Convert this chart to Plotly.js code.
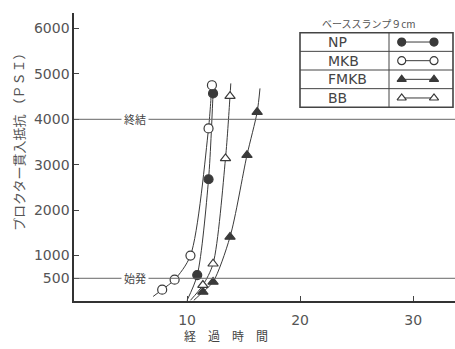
<!DOCTYPE html>
<html><head><meta charset="utf-8">
<script src="https://cdn.plot.ly/plotly-3.0.1.min.js"></script>
<style>html,body{margin:0;padding:0;background:#fff}#c{width:455px;height:349px}</style>
</head><body><div id="c"></div>
<script>
// categories
const categories = ['NP', 'MKB', 'FMKB', 'BB'];
// measured points (elapsed hours, penetration resistance PSI)
const npX = [10.9, 11.9, 12.3];
const npY = [570, 2680, 4570];
const mkbX = [7.8, 8.9, 10.3, 11.9, 12.2];
const mkbY = [250, 470, 1000, 3800, 4750];
const fmkbX = [11.4, 12.3, 13.8, 15.3, 16.2];
const fmkbY = [200, 420, 1410, 3210, 4160];
const bbX = [11.4, 12.3, 13.4, 13.8];
const bbY = [350, 820, 3140, 4510];
// fitted curve ends
const npCurveX = [10.0, 10.9, 11.9, 12.3, 12.35];
const npCurveY = [15, 570, 2680, 4570, 4830];
const mkbCurveX = [7.0, 7.8, 8.9, 10.3, 11.9, 12.2, 12.25];
const mkbCurveY = [100, 250, 470, 1000, 3800, 4750, 4850];
const fmkbCurveX = [10.6, 11.4, 12.3, 13.8, 15.3, 16.2, 16.45];
const fmkbCurveY = [15, 200, 420, 1410, 3210, 4160, 4680];
const bbCurveX = [10.3, 11.4, 12.3, 13.4, 13.8, 13.87];
const bbCurveY = [15, 350, 820, 3140, 4510, 4790];
// reference levels
const refLevels = [4000, 500];
const refLabels = ['終結', '始発'];
// ticks
const yTicks = [500, 1000, 2000, 3000, 4000, 5000, 6000];
const xTicks = [10, 20, 30];

const ink = '#3a3a3a';
const symbols = {NP: 'circle', MKB: 'circle', FMKB: 'triangle-up', BB: 'triangle-up'};
const fills = {NP: ink, MKB: '#fff', FMKB: ink, BB: '#fff'};
const pts = {NP: [npX, npY], MKB: [mkbX, mkbY], FMKB: [fmkbX, fmkbY], BB: [bbX, bbY]};
const curves = {NP: [npCurveX, npCurveY], MKB: [mkbCurveX, mkbCurveY], FMKB: [fmkbCurveX, fmkbCurveY], BB: [bbCurveX, bbCurveY]};

const traces = [];
categories.forEach(c => {
  traces.push({x: curves[c][0], y: curves[c][1], mode: 'lines', line: {color: ink, width: 1, shape: 'spline', smoothing: 0.8}, hoverinfo: 'skip', showlegend: false});
});
categories.forEach(c => {
  traces.push({x: pts[c][0], y: pts[c][1], mode: 'markers', name: c, showlegend: false,
    marker: {symbol: symbols[c], size: 9, color: fills[c], line: {color: ink, width: 1.2}}});
});
// legend samples in the table
categories.forEach((c, i) => {
  traces.push({x: [0, 1], y: [i, i], xaxis: 'x2', yaxis: 'y2', mode: 'lines+markers', showlegend: false, hoverinfo: 'skip',
    line: {color: ink, width: 1}, marker: {symbol: symbols[c], size: 8, color: fills[c], line: {color: ink, width: 1.2}}});
});

const tickFont = {family: 'DejaVu Sans, sans-serif', size: 14, color: '#555'};
const cjk = 'Noto Sans CJK JP, sans-serif';
const L = 74, W = 381, B = 301, H = 288;
const px = v => (v - L) / W;
const py = v => (B - v) / H;

const shapes = [];
refLevels.forEach(v => shapes.push({type: 'line', xref: 'paper', yref: 'y', x0: 0, x1: 1, y0: v, y1: v, line: {color: '#666', width: 1}}));
shapes.push({type: 'rect', xref: 'paper', yref: 'paper', x0: px(300), x1: px(453), y0: py(107.3), y1: py(32.7), line: {color: '#444', width: 1.6}});
shapes.push({type: 'line', xref: 'paper', yref: 'paper', x0: px(389), x1: px(389), y0: py(107.3), y1: py(32.7), line: {color: '#444', width: 1}});
[0.5, 1.5, 2.5].forEach(v => shapes.push({type: 'line', xref: 'paper', yref: 'y2', x0: px(300), x1: px(453), y0: v, y1: v, line: {color: '#444', width: 1}}));

const annotations = [];
refLevels.forEach((v, i) => annotations.push({x: 5.4, y: v, xref: 'x', yref: 'y', text: refLabels[i], showarrow: false,
  xanchor: 'center', yanchor: 'middle', font: {family: cjk, size: 11, color: '#444'}, bgcolor: '#fff', borderpad: 2}));
categories.forEach((c, i) => annotations.push({x: px(326), y: i, xref: 'paper', yref: 'y2', text: c, showarrow: false,
  xanchor: 'left', yanchor: 'middle', font: {family: 'DejaVu Sans, sans-serif', size: 14, color: '#444'}}));
annotations.push({x: px(369), y: py(24), xref: 'paper', yref: 'paper', text: 'ベーススランプ９cm', showarrow: false,
  xanchor: 'center', yanchor: 'middle', font: {family: cjk, size: 10, color: '#555'}});
annotations.push({x: px(18), y: py(139), xref: 'paper', yref: 'paper', text: 'プロクター貫入抵抗 （ＰＳＩ）', textangle: -90, showarrow: false,
  xanchor: 'center', yanchor: 'middle', font: {family: cjk, size: 13, color: '#555'}});
annotations.push({x: px(226), y: py(335), xref: 'paper', yref: 'paper', text: '経　過　時　間', showarrow: false,
  xanchor: 'center', yanchor: 'middle', font: {family: cjk, size: 12, color: '#444'}});

const layout = {
  width: 455, height: 349,
  margin: {l: L, r: 0, t: 13, b: 48},
  paper_bgcolor: '#fff', plot_bgcolor: '#fff',
  showlegend: false,
  xaxis: {range: [0, 33.7], tickvals: xTicks, ticks: 'inside', ticklen: 5, tickcolor: '#444', showgrid: false, zeroline: false,
    showline: true, linecolor: '#333', linewidth: 1.6, tickfont: tickFont, ticklabelstandoff: 6},
  yaxis: {range: [0, 6340], tickvals: yTicks, ticks: 'inside', ticklen: 5, tickcolor: '#444', showgrid: false, zeroline: false,
    showline: true, linecolor: '#333', linewidth: 1.6, tickfont: tickFont},
  xaxis2: {domain: [px(389), px(453)], range: [-0.393, 1.588], visible: false, anchor: 'y2'},
  yaxis2: {domain: [py(107.3), py(32.7)], range: [3.5, -0.5], visible: false, anchor: 'x2'},
  shapes: shapes,
  annotations: annotations
};
Plotly.newPlot('c', traces, layout, {displayModeBar: false, staticPlot: true});
</script></body></html>
